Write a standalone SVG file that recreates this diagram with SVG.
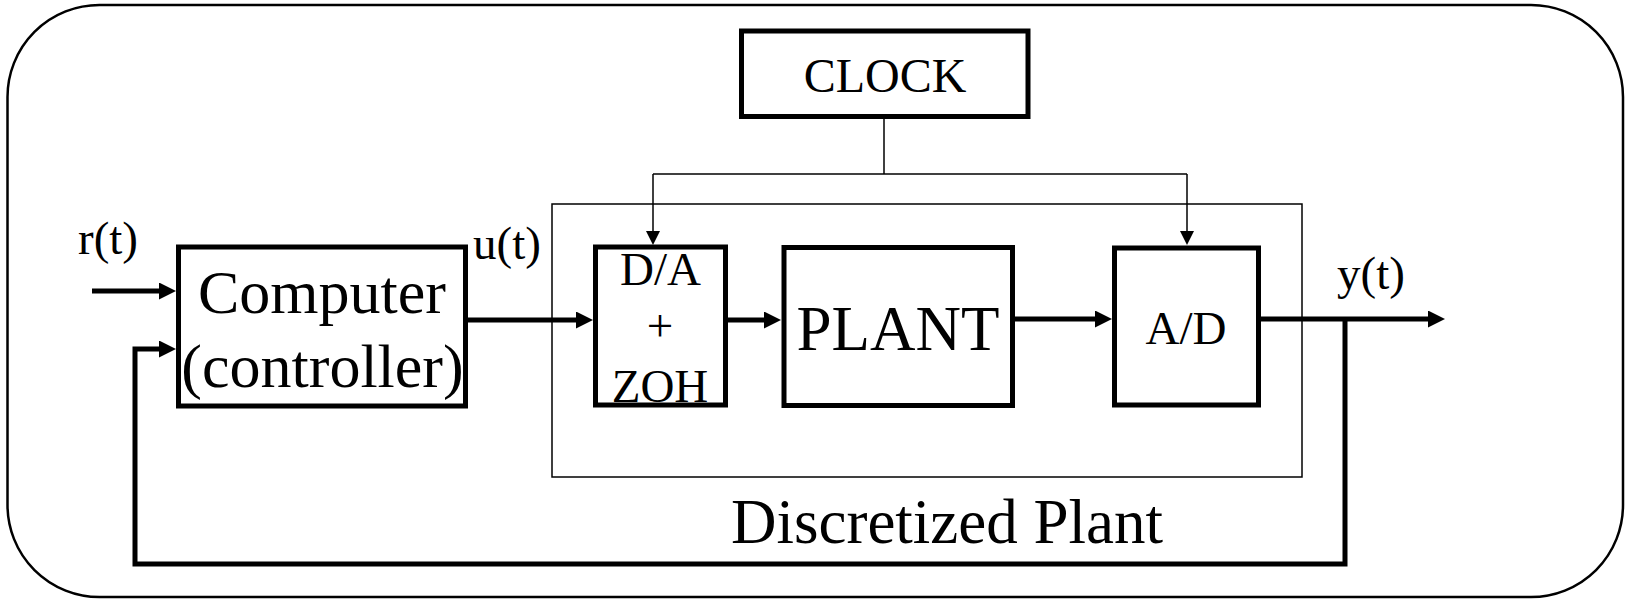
<svg xmlns="http://www.w3.org/2000/svg" width="1626" height="599" viewBox="0 0 1626 599">
<style>
  .blk { fill: #fff; stroke: #000; stroke-width: 5; }
  .thin { fill: none; stroke: #000; stroke-width: 1.5; }
  .sig { fill: none; stroke: #000; stroke-width: 5; }
  .clk { fill: none; stroke: #000; stroke-width: 1.5; }
  text { font-family: "Liberation Serif", "Times New Roman", serif; fill: #000; }
  .s47 { font-size: 47px; }
  .s62 { font-size: 62px; }
  .s63 { font-size: 63px; }
  .mid { text-anchor: middle; }
</style>
<defs>
  <marker id="ah" markerUnits="userSpaceOnUse" viewBox="0 0 17 17" refX="9" refY="8.5" markerWidth="17" markerHeight="17" orient="auto">
    <path d="M0,0 L17,8.5 L0,17 z" fill="#000"/>
  </marker>
  <marker id="ahs" markerUnits="userSpaceOnUse" viewBox="0 0 14 14" refX="7" refY="7" markerWidth="14" markerHeight="14" orient="auto">
    <path d="M0,0 L14,7 L0,14 z" fill="#000"/>
  </marker>
</defs>
<rect x="0" y="0" width="1626" height="599" fill="#fff"/>
<rect id="frame" x="7.5" y="5" width="1615.5" height="592" rx="92" ry="92" fill="none" stroke="#000" stroke-width="2.5"/>

<g id="discretized-plant">
  <rect class="thin" x="552" y="204" width="750" height="273"/>
  <text class="s63 mid" x="947" y="543">Discretized Plant</text>
</g>

<g id="connectors">
  <line class="clk" x1="884" y1="116" x2="884" y2="174"/>
  <polyline class="clk" points="653,174 1187,174"/>
  <line class="clk" x1="653" y1="174" x2="653" y2="238" marker-end="url(#ahs)"/>
  <line class="clk" x1="1187" y1="174" x2="1187" y2="238" marker-end="url(#ahs)"/>
  <line class="sig" x1="92" y1="291" x2="168" y2="291" marker-end="url(#ah)"/>
  <polyline class="sig" points="1345,319 1345,564 135,564 135,349 168,349" marker-end="url(#ah)"/>
  <line class="sig" x1="465" y1="320" x2="585" y2="320" marker-end="url(#ah)"/>
  <line class="sig" x1="728" y1="320" x2="773" y2="320" marker-end="url(#ah)"/>
  <line class="sig" x1="1015" y1="319" x2="1104" y2="319" marker-end="url(#ah)"/>
  <line class="sig" x1="1261" y1="319" x2="1437" y2="319" marker-end="url(#ah)"/>
</g>

<g id="clock">
  <rect class="blk" x="741.5" y="31" width="286.5" height="85.5"/>
  <text class="mid" x="885" y="92" font-size="48">CLOCK</text>
</g>

<g id="computer">
  <rect class="blk" x="178.5" y="247" width="287" height="159"/>
  <text class="s62 mid" x="322" y="313">Computer</text>
  <text class="s62 mid" x="322.5" y="387">(controller)</text>
</g>

<g id="da-zoh">
  <rect class="blk" x="595.5" y="247" width="130" height="158"/>
  <text class="s47 mid" x="660.5" y="285">D/A</text>
  <text class="s47 mid" x="660" y="341">+</text>
  <text class="s47 mid" x="660" y="402">ZOH</text>
</g>

<g id="plant">
  <rect class="blk" x="784" y="247.5" width="228.5" height="158"/>
  <text class="s63 mid" x="898" y="350">PLANT</text>
</g>

<g id="ad">
  <rect class="blk" x="1114.5" y="248" width="144" height="157"/>
  <text class="s47 mid" x="1186" y="344">A/D</text>
</g>

<g id="labels">
  <text class="s47" x="78" y="254">r(t)</text>
  <text class="s47" x="473" y="259">u(t)</text>
  <text class="s47" x="1337" y="289">y(t)</text>
</g>
</svg>
